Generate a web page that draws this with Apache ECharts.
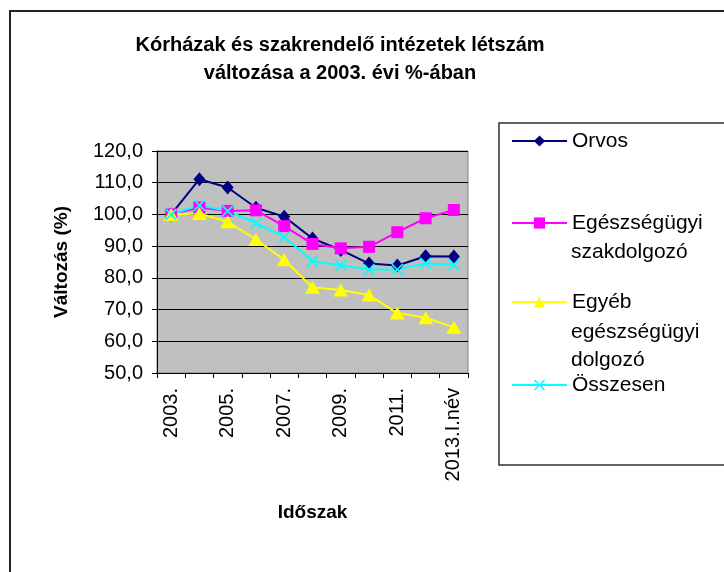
<!DOCTYPE html>
<html>
<head>
<meta charset="utf-8">
<title>Kórházak és szakrendelő intézetek létszám</title>
<script src="https://cdn.jsdelivr.net/npm/echarts@6/dist/echarts.min.js"></script>
<style>
    html, body { margin: 0; padding: 0; background: #fff; }
    #chart { width: 724px; height: 572px; }
</style>
</head>
<body>
<div id="chart"></div>
<script>
// adatok (2003 = 100%)
var categories = ["2003.", "2004.", "2005.", "2006.", "2007.", "2008.", "2009.", "2010.", "2011.", "2012.", "2013.I.név"];
var orvos = [100, 111.1, 108.5, 102.1, 99.3, 92.4, 88.8, 84.5, 83.9, 86.8, 86.7];
var szakdolgozo = [100, 102.2, 101.1, 101.3, 96.3, 90.7, 89.3, 89.8, 94.4, 98.8, 101.4];
var egyeb = [100, 100.3, 97.7, 92.1, 85.7, 77.0, 76.2, 74.6, 68.9, 67.4, 64.4];
var osszesen = [100, 102.9, 101.1, 97.3, 92.9, 85.2, 84.0, 82.6, 82.6, 84.6, 84.1];
var yTicks = { min: 50, max: 120, step: 10 };

var FONT = "Liberation Sans, Arial, sans-serif";
var xMark = "path://M0,1L1,0L5,4L9,0L10,1L6,5L10,9L9,10L5,6L1,10L0,9L4,5Z";

var chart = echarts.init(document.getElementById("chart"));

function lineSeries(name, data, color, symbol, size) {
    return {
        name: name,
        type: "line",
        data: data,
        symbol: symbol,
        symbolSize: size,
        showAllSymbol: true,
        lineStyle: { color: color, width: 2 },
        itemStyle: { color: color },
        emphasis: { disabled: true },
        animation: false
    };
}

function legendItem(name, top) {
    return {
        data: [name],
        orient: "vertical",
        left: 511,
        top: top,
        padding: 0,
        itemWidth: 55,
        itemHeight: 14,
        itemGap: 0,
        selectedMode: false,
        textStyle: { fontFamily: FONT, fontSize: 21, lineHeight: 24, color: "#000" }
    };
}

function extraText(text, y) {
    return {
        type: "text",
        x: 571,
        y: y,
        style: { text: text, fontFamily: FONT, fontSize: 21, fill: "#000", textVerticalAlign: "middle" }
    };
}

chart.setOption({
    backgroundColor: "#fff",
    title: {
        text: "Kórházak és szakrendelő intézetek létszám\nváltozása a 2003. évi %-ában",
        left: 340,
        top: 31,
        textAlign: "center",
        padding: 0,
        textStyle: { fontFamily: FONT, fontSize: 20, fontWeight: "bold", color: "#000", lineHeight: 28 }
    },
    legend: [
        legendItem("Orvos", 129),
        legendItem("Egészségügyi", 211),
        legendItem("Egyéb", 290),
        legendItem("Összesen", 373)
    ],
    graphic: [
        { type: "rect", shape: { x: 10, y: 11, width: 1000, height: 1000 }, style: { fill: null, stroke: "#222", lineWidth: 2 }, silent: true },
        { type: "rect", shape: { x: 499, y: 123, width: 400, height: 342 }, style: { fill: null, stroke: "#333", lineWidth: 1.5 }, silent: true },
        extraText("szakdolgozó", 252),
        extraText("egészségügyi", 332),
        extraText("dolgozó", 360)
    ],
    grid: {
        left: 157,
        top: 151,
        width: 311,
        height: 222,
        show: true,
        backgroundColor: "#c0c0c0",
        borderColor: "#808080",
        borderWidth: 1
    },
    xAxis: {
        type: "category",
        data: categories,
        boundaryGap: true,
        name: "Időszak",
        nameLocation: "middle",
        nameGap: 130,
        nameTextStyle: { fontFamily: FONT, fontSize: 19, fontWeight: "bold", color: "#000", verticalAlign: "top" },
        axisLine: { lineStyle: { color: "#000", width: 1 } },
        axisTick: { show: true, interval: 0, length: 5, lineStyle: { color: "#000" } },
        axisLabel: { interval: 1, rotate: 90, margin: 15, fontFamily: FONT, fontSize: 20, color: "#000" },
        splitLine: { show: false }
    },
    yAxis: {
        type: "value",
        min: yTicks.min,
        max: yTicks.max,
        interval: yTicks.step,
        name: "Változás (%)",
        nameLocation: "middle",
        nameRotate: 90,
        nameGap: 86,
        nameTextStyle: { fontFamily: FONT, fontSize: 19, fontWeight: "bold", color: "#000" },
        axisLine: { show: true, lineStyle: { color: "#000", width: 1 } },
        axisTick: { show: true, length: 5, lineStyle: { color: "#000" } },
        axisLabel: {
            margin: 14,
            fontFamily: FONT,
            fontSize: 20,
            color: "#000",
            formatter: function(v) { return v.toFixed(1).replace(".", ","); }
        },
        splitLine: { show: true, lineStyle: { color: "#000", width: 1 } }
    },
    series: [
        lineSeries("Orvos", orvos, "#000080", "diamond", [12, 14]),
        lineSeries("Egészségügyi", szakdolgozo, "#ff00ff", "rect", 12),
        lineSeries("Egyéb", egyeb, "#ffff00", "triangle", [15, 13]),
        lineSeries("Összesen", osszesen, "#00ffff", xMark, 12)
    ]
});
</script>
</body>
</html>
